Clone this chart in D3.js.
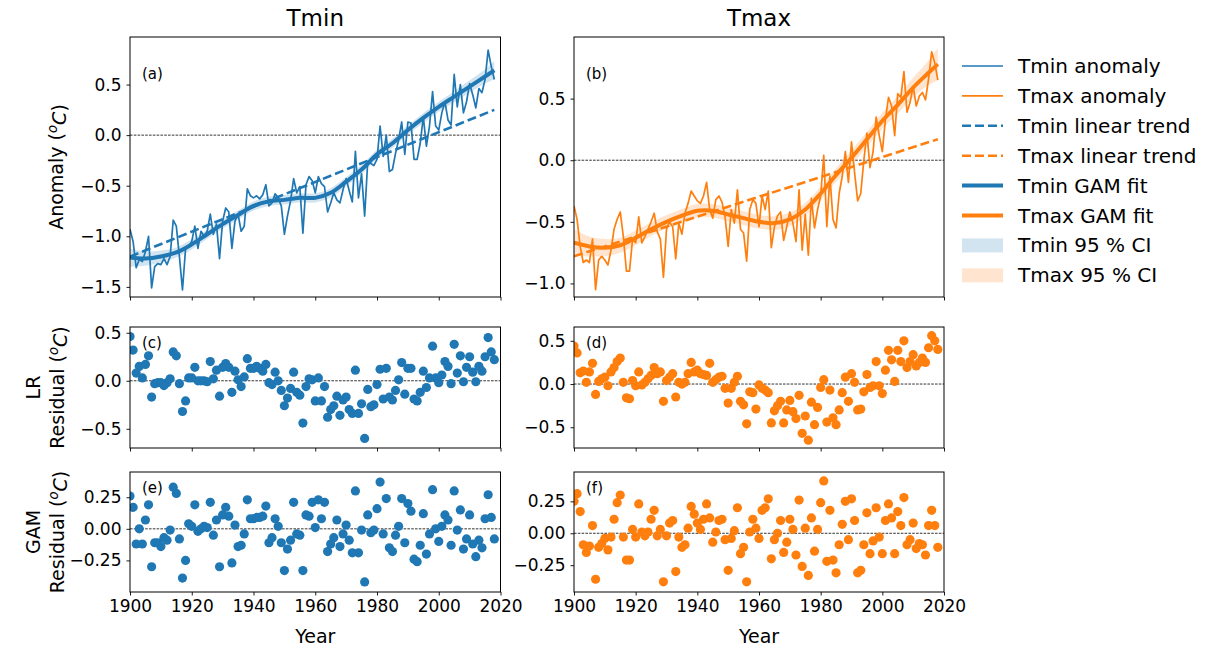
<!DOCTYPE html>
<html>
<head>
<meta charset="utf-8">
<script src="https://cdn.jsdelivr.net/npm/d3@7"></script>
<style>
  body { margin: 0; background: #fff; }
  svg { font-family: "DejaVu Sans", sans-serif; }
</style>
</head>
<body>
<div id="chart"></div>
<script>
// ---- data ----
const years = d3.range(1900, 2019);

const tminAnomaly = [
  -0.93,-1.05,-1.31,-1.23,-1.25,-1.15,-1.00,-1.51,-1.30,-1.27,
  -1.28,-1.22,-1.28,-1.20,-0.84,-0.90,-1.20,-1.53,-1.12,-1.10,
  -1.05,-0.90,-1.12,-0.95,-1.00,-0.95,-0.78,-0.98,-0.88,-1.22,
  -0.85,-0.72,-0.76,-1.12,-0.85,-0.78,-0.95,-0.90,-0.53,-0.60,
  -0.62,-0.60,-0.63,-0.59,-0.49,-0.70,-0.67,-0.58,-0.62,-0.70,
  -0.98,-0.80,-0.65,-0.43,-0.57,-0.51,-0.97,-0.49,-0.41,-0.45,
  -0.57,-0.41,-0.48,-0.51,-0.76,-0.67,-0.57,-0.64,-0.67,-0.54,
  -0.43,-0.55,-0.66,-0.16,-0.62,-0.38,-0.80,-0.26,-0.28,-0.30,
  -0.24, 0.09,-0.21, 0.00,-0.36,-0.34,-0.18,-0.05, 0.13,-0.19,
   0.13, 0.12,-0.24,-0.24,-0.08, 0.18,-0.11, 0.09, 0.43, 0.09,
   0.05, 0.22, 0.33, 0.15, 0.10, 0.60, 0.28, 0.50, 0.22, 0.33,
   0.51, 0.40, 0.27, 0.46, 0.42, 0.55, 0.84, 0.68, 0.55
];

const tmaxAnomaly = [
  -0.37,-0.48,-0.70,-0.83,-0.81,-0.83,-0.64,-1.05,-0.81,-0.78,
  -0.81,-0.85,-0.73,-0.56,-0.48,-0.42,-0.62,-0.90,-0.90,-0.64,
  -0.67,-0.46,-0.67,-0.62,-0.56,-0.50,-0.43,-0.58,-0.64,-0.95,
  -0.56,-0.50,-0.54,-0.80,-0.51,-0.60,-0.43,-0.35,-0.25,-0.29,
  -0.33,-0.35,-0.29,-0.18,-0.40,-0.47,-0.32,-0.29,-0.34,-0.46,
  -0.70,-0.40,-0.51,-0.24,-0.56,-0.59,-0.82,-0.40,-0.32,-0.35,
  -0.54,-0.29,-0.40,-0.25,-0.71,-0.54,-0.45,-0.42,-0.65,-0.54,
  -0.42,-0.51,-0.66,-0.24,-0.73,-0.44,-0.77,-0.31,-0.55,-0.40,
  -0.29, 0.04,-0.54,-0.13,-0.48,-0.55,-0.27,-0.13, 0.07,-0.18,
   0.15,-0.10,-0.33,-0.27, 0.00, 0.22,-0.06, 0.07, 0.35, 0.20,
   0.07, 0.33, 0.51, 0.44, 0.20, 0.54, 0.51, 0.72, 0.39, 0.47,
   0.60, 0.44, 0.52, 0.55, 0.49, 0.66, 0.88, 0.79, 0.65
];

// linear trend end points
const trendYears = [1900, 2018];
const tminTrend = [-1.20, 0.25];
const tmaxTrend = [-0.78, 0.17];

// GAM fit and 95 % CI half width at knots
const gamYears = [1900,1905,1910,1915,1920,1925,1930,1935,1940,1945,1950,1955,
                  1960,1965,1970,1975,1980,1985,1990,1995,2000,2005,2010,2015,2018];
const tminGam = [-1.21,-1.22,-1.20,-1.16,-1.08,-0.98,-0.88,-0.79,-0.70,-0.655,-0.64,-0.62,
                 -0.62,-0.57,-0.46,-0.34,-0.19,-0.08,0.05,0.17,0.28,0.38,0.48,0.58,0.64];
const tmaxGam = [-0.67,-0.70,-0.71,-0.69,-0.63,-0.56,-0.50,-0.45,-0.41,-0.41,-0.44,-0.47,
                 -0.50,-0.51,-0.48,-0.40,-0.27,-0.12,0.02,0.17,0.32,0.45,0.59,0.71,0.78];
const tminCI = [0.09,0.07,0.06,0.05,0.05,0.045,0.045,0.045,0.045,0.045,0.045,0.045,
                0.045,0.045,0.045,0.045,0.045,0.045,0.045,0.05,0.05,0.055,0.06,0.07,0.09];
const tmaxCI = [0.11,0.08,0.07,0.06,0.06,0.055,0.055,0.055,0.055,0.055,0.055,0.055,
                0.055,0.055,0.055,0.055,0.055,0.055,0.06,0.06,0.065,0.07,0.08,0.10,0.13];

// residuals from the linear regression
const tminLR = [
   0.46, 0.32, 0.08, 0.15, 0.03, 0.17, 0.26,-0.17,-0.03,-0.02,
  -0.02,-0.05,-0.02, 0.02, 0.30, 0.26,-0.03,-0.32,-0.21, 0.03,
   0.03, 0.14, 0.00, 0.00, 0.00,-0.01, 0.20, 0.02, 0.11,-0.16,
   0.14, 0.18, 0.14,-0.12, 0.10, 0.01,-0.06, 0.04, 0.23, 0.13,
   0.13, 0.15, 0.13, 0.10, 0.17,-0.02,-0.04, 0.09, 0.00,-0.10,
  -0.26,-0.18,-0.08, 0.09,-0.12,-0.15,-0.44,-0.06, 0.02, 0.01,
  -0.21, 0.03,-0.21,-0.06,-0.38,-0.30,-0.26,-0.16,-0.36,-0.20,
  -0.17,-0.30,-0.34, 0.11,-0.34,-0.24,-0.60,-0.09,-0.27,-0.25,
  -0.04, 0.12,-0.19, 0.13,-0.17,-0.20,-0.10, 0.01, 0.19,-0.14,
   0.13, 0.13,-0.19,-0.21,-0.12, 0.10,-0.07, 0.03, 0.36, 0.03,
  -0.02, 0.06, 0.20, 0.15,-0.03, 0.38, 0.08, 0.26,-0.01, 0.14,
   0.25, 0.09,-0.01, 0.15, 0.10, 0.25, 0.45, 0.30, 0.22
];

const tmaxLR = [
   0.44, 0.36, 0.13, 0.15, 0.02, 0.14, 0.24,-0.12, 0.03, 0.06,
   0.08,-0.02, 0.14, 0.19, 0.26, 0.30, 0.02,-0.16,-0.17, 0.04,
  -0.02, 0.14,-0.01, 0.02, 0.06, 0.10, 0.19, 0.12, 0.14,-0.20,
   0.04, 0.08, 0.12,-0.15, 0.02, 0.00, 0.02, 0.12, 0.25, 0.14,
   0.16, 0.12, 0.11, 0.10, 0.24, 0.02, 0.05, 0.08, 0.09,-0.05,
  -0.22,-0.05, 0.02, 0.09,-0.20,-0.24,-0.46,-0.09,-0.10,-0.29,
  -0.01,-0.05,-0.07,-0.10,-0.45,-0.31,-0.25,-0.20,-0.45,-0.30,
  -0.19,-0.32,-0.40,-0.13,-0.57,-0.37,-0.65,-0.21,-0.47,-0.27,
  -0.04, 0.05,-0.44,-0.07,-0.39,-0.47,-0.30,-0.10, 0.08,-0.20,
   0.12, 0.02,-0.30,-0.29,-0.09, 0.11,-0.04,-0.02, 0.26,-0.02,
  -0.11, 0.16, 0.39, 0.28, 0.03, 0.39, 0.26, 0.50, 0.19, 0.26,
   0.34, 0.21, 0.25, 0.30, 0.25, 0.42, 0.56, 0.50, 0.40
];

// residuals from the GAM fit
const tminGamRes = [
   0.26, 0.17,-0.12, 0.00,-0.12, 0.07, 0.19,-0.30,-0.11,-0.11,
  -0.14,-0.07,-0.09,-0.01, 0.33, 0.28,-0.08,-0.39,-0.25, 0.04,
   0.02, 0.19,-0.02, 0.00, 0.02, 0.01, 0.21,-0.05, 0.07,-0.30,
   0.11, 0.17, 0.10,-0.27, 0.03,-0.14,-0.13,-0.04, 0.23, 0.08,
   0.08, 0.09, 0.09, 0.10, 0.18,-0.11,-0.07, 0.08, 0.02,-0.11,
  -0.33,-0.16,-0.09, 0.21,-0.04,-0.05,-0.33, 0.11, 0.10, 0.21,
   0.01, 0.23, 0.08, 0.21,-0.18,-0.12,-0.07, 0.07,-0.14,-0.04,
   0.03,-0.09,-0.19, 0.30,-0.19,-0.01,-0.42, 0.11,-0.03,-0.01,
   0.16, 0.37,-0.04, 0.24,-0.15,-0.18,-0.05, 0.02, 0.24,-0.11,
   0.20, 0.14,-0.24,-0.26,-0.13, 0.12,-0.20,-0.04, 0.31, 0.00,
  -0.10, 0.02, 0.11, 0.07,-0.13, 0.30,-0.01, 0.15,-0.16,-0.08,
   0.11,-0.12,-0.22,-0.09,-0.15, 0.08, 0.27, 0.09,-0.08
];

const tmaxGamRes = [
   0.25, 0.31, 0.17,-0.09,-0.15,-0.10, 0.06,-0.36,-0.11,-0.08,
  -0.04,-0.13,-0.03, 0.11, 0.24, 0.30,-0.03,-0.21,-0.21, 0.03,
  -0.03, 0.23, 0.01,-0.02, 0.01, 0.11, 0.18,-0.02, 0.03,-0.38,
  -0.02, 0.08, 0.10,-0.30,-0.03,-0.11,-0.09, 0.04, 0.21, 0.15,
   0.08, 0.03, 0.11, 0.23, 0.12,-0.07, 0.01, 0.10, 0.11,-0.05,
  -0.29,-0.04, 0.02, 0.20,-0.16,-0.11,-0.38, 0.01, 0.11, 0.04,
  -0.04, 0.18, 0.20, 0.27,-0.20,-0.05, 0.00, 0.10,-0.15,-0.07,
   0.11, 0.03,-0.17, 0.26,-0.26, 0.04,-0.33, 0.12,-0.14, 0.03,
   0.24, 0.41,-0.22, 0.18,-0.21,-0.31,-0.09, 0.07, 0.25,-0.05,
   0.27, 0.10,-0.31,-0.29,-0.09, 0.16,-0.16,-0.06, 0.20,-0.03,
  -0.16, 0.10, 0.23, 0.12,-0.16, 0.17, 0.06, 0.28,-0.09,-0.05,
   0.08,-0.12,-0.08,-0.09,-0.17, 0.06, 0.18, 0.06,-0.11
];

// ---- layout ----
const width = 1214, height = 648;
const blue = "#1f77b4", orange = "#ff7f0e";

const cols = [{ left: 130, right: 500.5 }, { left: 574, right: 944 }];
const rows = [{ top: 37, bottom: 297 }, { top: 327, bottom: 448 }, { top: 472, bottom: 592 }];

const svg = d3.select("#chart")
  .append("svg")
  .attr("width", width)
  .attr("height", height);

let clipId = 0;

function panel(c, r, yDomain, yTicks, fmt, tag, showX) {
  const col = cols[c], row = rows[r];
  const x = d3.scaleLinear().domain([1900, 2020]).range([col.left, col.right]);
  const y = d3.scaleLinear().domain(yDomain).range([row.bottom, row.top]);

  const id = "clip" + (clipId++);
  svg.append("clipPath").attr("id", id)
    .append("rect")
    .attr("x", col.left).attr("y", row.top)
    .attr("width", col.right - col.left).attr("height", row.bottom - row.top);

  const g = svg.append("g").attr("clip-path", `url(#${id})`);

  // zero line
  g.append("line")
    .attr("x1", col.left).attr("x2", col.right)
    .attr("y1", y(0)).attr("y2", y(0))
    .attr("stroke", "#000").attr("stroke-width", 0.8)
    .attr("stroke-dasharray", "2.6,1.2");

  const xa = svg.append("g")
    .attr("transform", `translate(0,${row.bottom})`)
    .call(d3.axisBottom(x).tickValues([1900, 1920, 1940, 1960, 1980, 2000, 2020])
      .tickSize(3.5).tickPadding(4).tickFormat(showX ? d3.format("d") : () => ""));
  xa.select(".domain").remove();
  xa.selectAll("text").attr("font-size", 17).attr("font-family", "DejaVu Sans").attr("fill", "#000");
  xa.selectAll("line").attr("stroke-width", 0.9);

  const ya = svg.append("g")
    .attr("transform", `translate(${col.left},0)`)
    .call(d3.axisLeft(y).tickValues(yTicks).tickSize(3.5).tickPadding(5).tickFormat(d3.format(fmt)));
  ya.select(".domain").remove();
  ya.selectAll("text").attr("font-size", 17).attr("font-family", "DejaVu Sans").attr("fill", "#000");
  ya.selectAll("line").attr("stroke-width", 0.9);

  svg.append("rect")
    .attr("x", col.left).attr("y", row.top)
    .attr("width", col.right - col.left).attr("height", row.bottom - row.top)
    .attr("fill", "none").attr("stroke", "#000").attr("stroke-width", 1);

  svg.append("text")
    .attr("x", col.left + 12).attr("y", row.top + (r === 0 ? 42 : 21))
    .attr("font-size", 15)
    .text(tag);

  return { x, y, g };
}

function lineSeries(p, xs, vs, color, w, dash, curve) {
  const line = d3.line()
    .x((d, i) => p.x(xs[i]))
    .y(d => p.y(d));
  if (curve) line.curve(curve);
  p.g.append("path")
    .datum(vs)
    .attr("d", line)
    .attr("fill", "none")
    .attr("stroke", color)
    .attr("stroke-width", w)
    .attr("stroke-dasharray", dash || null)
    .attr("stroke-linejoin", "round");
}

function band(p, xs, fit, half, color) {
  const area = d3.area()
    .x((d, i) => p.x(xs[i]))
    .y0((d, i) => p.y(d - half[i]))
    .y1((d, i) => p.y(d + half[i]))
    .curve(d3.curveCatmullRom);
  p.g.append("path")
    .datum(fit)
    .attr("d", area)
    .attr("fill", color)
    .attr("fill-opacity", 0.2);
}

function dots(p, vs, color) {
  p.g.selectAll(null)
    .data(vs)
    .join("circle")
    .attr("cx", (d, i) => p.x(years[i]))
    .attr("cy", d => p.y(d))
    .attr("r", 4.6)
    .attr("fill", color);
}

// ---- top row ----
const pa = panel(0, 0, [-1.60, 0.97], [-1.5, -1.0, -0.5, 0.0, 0.5], ".1f", "(a)", false);
band(pa, gamYears, tminGam, tminCI, blue);
lineSeries(pa, years, tminAnomaly, blue, 1.7);
lineSeries(pa, trendYears, tminTrend, blue, 2.6, "9,4");
lineSeries(pa, gamYears, tminGam, blue, 4, null, d3.curveCatmullRom);

const pb = panel(1, 0, [-1.11, 1.0], [-1.0, -0.5, 0.0, 0.5], ".1f", "(b)", false);
band(pb, gamYears, tmaxGam, tmaxCI, orange);
lineSeries(pb, years, tmaxAnomaly, orange, 1.7);
lineSeries(pb, trendYears, tmaxTrend, orange, 2.6, "9,4");
lineSeries(pb, gamYears, tmaxGam, orange, 4, null, d3.curveCatmullRom);

// ---- residual rows ----
const pc = panel(0, 1, [-0.70, 0.56], [-0.5, 0.0, 0.5], ".1f", "(c)", false);
dots(pc, tminLR, blue);
const pd = panel(1, 1, [-0.74, 0.66], [-0.5, 0.0, 0.5], ".1f", "(d)", false);
dots(pd, tmaxLR, orange);
const pe = panel(0, 2, [-0.50, 0.45], [-0.25, 0.0, 0.25], ".2f", "(e)", true);
dots(pe, tminGamRes, blue);
const pf = panel(1, 2, [-0.46, 0.48], [-0.25, 0.0, 0.25], ".2f", "(f)", true);
dots(pf, tmaxGamRes, orange);

// ---- titles and labels ----
[["Tmin", 0], ["Tmax", 1]].forEach(([t, c]) => {
  svg.append("text")
    .attr("x", (cols[c].left + cols[c].right) / 2).attr("y", 26)
    .attr("text-anchor", "middle").attr("font-size", 23)
    .text(t);
  svg.append("text")
    .attr("x", (cols[c].left + cols[c].right) / 2).attr("y", 643)
    .attr("text-anchor", "middle").attr("font-size", 19)
    .text("Year");
});

function unitLabel(sel) {
  sel.append("tspan").text("(");
  sel.append("tspan").attr("font-style", "italic").attr("font-size", "0.7em")
    .attr("dy", "-0.45em").text("o");
  sel.append("tspan").attr("font-style", "italic").attr("dy", "0.45em").text("C");
  sel.append("tspan").text(")");
}

const ya1 = svg.append("text")
  .attr("transform", `translate(63,${(rows[0].top + rows[0].bottom) / 2}) rotate(-90)`)
  .attr("text-anchor", "middle").attr("font-size", 19);
ya1.append("tspan").text("Anomaly ");
unitLabel(ya1);

[["LR", 1], ["GAM", 2]].forEach(([t, r]) => {
  const cy = (rows[r].top + rows[r].bottom) / 2;
  svg.append("text")
    .attr("transform", `translate(40,${cy}) rotate(-90)`)
    .attr("text-anchor", "middle").attr("font-size", 19)
    .text(t);
  const s = svg.append("text")
    .attr("transform", `translate(64,${cy}) rotate(-90)`)
    .attr("text-anchor", "middle").attr("font-size", 19);
  s.append("tspan").text("Residual ");
  unitLabel(s);
});

// ---- legend ----
const legendItems = [
  { label: "Tmin anomaly", color: blue, type: "line", w: 1.7 },
  { label: "Tmax anomaly", color: orange, type: "line", w: 1.7 },
  { label: "Tmin linear trend", color: blue, type: "line", w: 2.6, dash: "9,4" },
  { label: "Tmax linear trend", color: orange, type: "line", w: 2.6, dash: "9,4" },
  { label: "Tmin GAM fit", color: blue, type: "line", w: 4 },
  { label: "Tmax GAM fit", color: orange, type: "line", w: 4 },
  { label: "Tmin 95 % CI", color: blue, type: "patch" },
  { label: "Tmax 95 % CI", color: orange, type: "patch" }
];

const lg = svg.append("g").attr("transform", "translate(962,66)");
legendItems.forEach((d, i) => {
  const row = lg.append("g").attr("transform", `translate(0,${i * 29.9})`);
  if (d.type === "line") {
    row.append("line")
      .attr("x1", 0).attr("x2", 41).attr("y1", 0).attr("y2", 0)
      .attr("stroke", d.color).attr("stroke-width", d.w)
      .attr("stroke-dasharray", d.dash || null);
  } else {
    row.append("rect")
      .attr("x", 0).attr("y", -7).attr("width", 41).attr("height", 14)
      .attr("fill", d.color).attr("fill-opacity", 0.2);
  }
  row.append("text")
    .attr("x", 56).attr("y", 7)
    .attr("font-size", 20)
    .text(d.label);
});
</script>
</body>
</html>
